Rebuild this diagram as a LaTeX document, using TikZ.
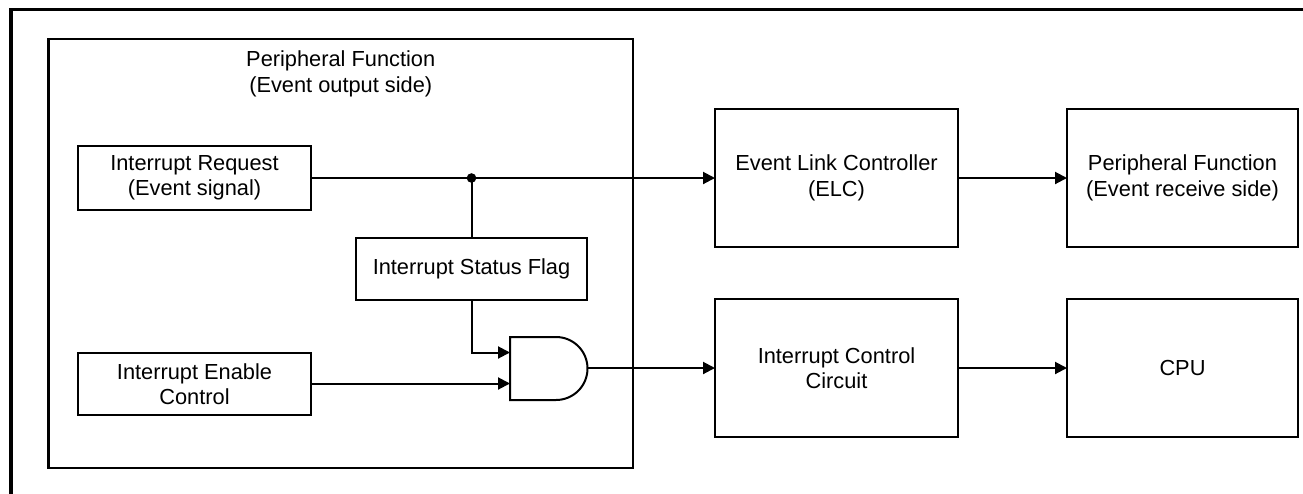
\documentclass[tikz,border=0pt]{standalone}
\usepackage{fontspec}
\setmainfont{Liberation Sans}
\usetikzlibrary{arrows.meta}
\begin{document}
\begin{tikzpicture}[x=1pt,y=-1pt,
  txt/.style={font=\fontsize{21.8}{25.5}\selectfont, align=center},
  blk/.style={txt, draw, line width=2.3pt, inner sep=0pt, outer sep=0pt},
  wire/.style={line width=2pt},
  arr/.style={wire, -{Triangle[length=12pt,width=12pt]}},
  frame/.style={line width=3.8pt}
]
\useasboundingbox (0,0) rectangle (1303,493);

% outer frame (top and left edges)
\draw[frame] (1310,9.5) -- (11,9.5) -- (11,500);

% peripheral function block (event output side)
\node[blk, minimum width=584.5pt, minimum height=429pt] (periph) at (340.75,253.5) {};
\node[txt] (ptitle) at (340.75,74) {Peripheral Function\\(Event output side)};

\node[blk, minimum width=233pt, minimum height=64pt] (req) at (194.5,178) {Interrupt Request\\(Event signal)};
\node[blk, minimum width=231pt, minimum height=62pt] (isf) at (471.5,269) {Interrupt Status Flag};
\node[blk, minimum width=233pt, minimum height=62pt] (ien) at (194.5,384) {Interrupt Enable\\Control};

% right-hand blocks
\node[blk, minimum width=243pt, minimum height=138pt] (elc) at (836.5,178) {Event Link Controller\\(ELC)};
\node[blk, minimum width=231pt, minimum height=138pt] (pfr) at (1182.5,178) {Peripheral Function\\(Event receive side)};
\node[blk, minimum width=243pt, minimum height=138pt] (icc) at (836.5,368) {Interrupt Control\\Circuit};
\node[blk, minimum width=231pt, minimum height=138pt] (cpu) at (1182.5,368) {CPU};

% AND gate
\coordinate (andin1) at (510,352.5);
\coordinate (andin2) at (510,383.5);
\coordinate (andout) at (587.5,368);
\draw[line width=2pt, fill=white] (510,337) -- (556,337)
  arc[start angle=-90, end angle=90, radius=31.5] -- (510,400) -- cycle;

% junction on the event signal line
\coordinate (jn) at (471.5,178);
\fill (jn) circle[radius=4.8pt];

% connectors
\draw[arr] (req.east) -- (elc.west);
\draw[wire] (jn) -- (isf.north);
\draw[arr] (isf.south) |- (andin1);
\draw[arr] (ien.east |- andin2) -- (andin2);
\draw[arr] (andout) -- (icc.west);
\draw[arr] (elc.east) -- (pfr.west);
\draw[arr] (icc.east) -- (cpu.west);
\end{tikzpicture}
\end{document}
